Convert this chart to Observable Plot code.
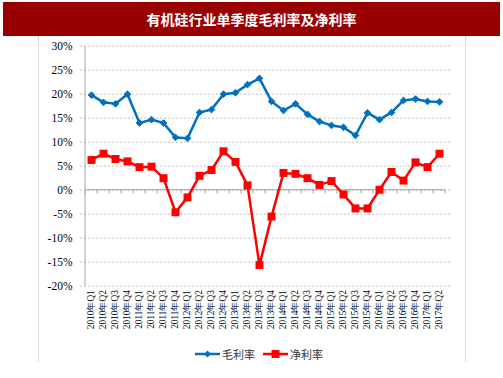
<!DOCTYPE html>
<html><head><meta charset="utf-8">
<script src="https://cdn.jsdelivr.net/npm/d3@7"></script>
<script src="https://cdn.jsdelivr.net/npm/@observablehq/plot@0.6"></script>
<style>
body{margin:0;width:503px;height:378px;background:#fff;position:relative;overflow:hidden;font-family:"Liberation Serif",serif}
#title{position:absolute;left:3px;top:2px;width:497px;height:34px;background:#990000;color:#fff;font:bold 14px "Noto Sans CJK SC",sans-serif;display:flex;align-items:center;justify-content:center;z-index:2}
#frame{position:absolute;left:38px;top:36px;width:426px;height:326px;border-left:1px solid #d9d9d9;border-right:1px solid #d9d9d9}
#chart{position:absolute;left:0;top:0}
#legend{position:absolute;top:346px;left:0;width:503px;height:16px;font:11px "Noto Sans CJK SC",sans-serif;color:#333}
.li{position:absolute;top:0;display:flex;align-items:center;height:16px}
</style></head>
<body>
<div id="frame"></div>
<div id="chart"></div>
<div id="title">有机硅行业单季度毛利率及净利率</div>
<div id="legend">
 <div class="li" style="left:195px"><svg width="25" height="10"><line x1="0" y1="5" x2="25" y2="5" stroke="#0070C0" stroke-width="2.5"/><path d="M12.5,1.5 L16,5 L12.5,8.5 L9,5Z" fill="#0070C0"/></svg><span style="margin-left:2px">毛利率</span></div>
 <div class="li" style="left:263px"><svg width="25" height="10"><line x1="0" y1="5" x2="25" y2="5" stroke="#FF0000" stroke-width="2.5"/><rect x="8.5" y="1" width="8" height="8" fill="#FF0000"/></svg><span style="margin-left:2px">净利率</span></div>
</div>
<script>
const quarters = ["2010年Q1","2010年Q2","2010年Q3","2010年Q4","2011年Q1","2011年Q2","2011年Q3","2011年Q4","2012年Q1","2012年Q2","2012年Q3","2012年Q4","2013年Q1","2013年Q2","2013年Q3","2013年Q4","2014年Q1","2014年Q2","2014年Q3","2014年Q4","2015年Q1","2015年Q2","2015年Q3","2015年Q4","2016年Q1","2016年Q2","2016年Q3","2016年Q4","2017年Q1","2017年Q2"];
const grossMargin = [19.8,18.3,18.0,20.0,14.0,14.7,14.0,11.0,10.8,16.2,16.8,20.0,20.3,22.0,23.3,18.5,16.6,18.0,15.8,14.3,13.5,13.1,11.4,16.1,14.7,16.2,18.7,19.0,18.5,18.4];
const netMargin = [6.3,7.6,6.5,6.0,4.8,4.9,2.5,-4.6,-1.5,3.0,4.2,8.1,5.9,1.0,-15.6,-5.5,3.6,3.4,2.5,1.1,1.9,-0.9,-3.8,-3.8,0.1,3.8,2.0,5.8,4.8,7.6];
const yTicks = [-20,-15,-10,-5,0,5,10,15,20,25,30];

const gross = quarters.map((q,i)=>({q, v: grossMargin[i]}));
const net = quarters.map((q,i)=>({q, v: netMargin[i]}));

// category-boundary tick marks on the zero line and left axis line, drawn from the scales
const zeroTicks = (index, scales) => {
  const g = d3.create("svg:g").attr("stroke", "#a6a6a6");
  const y0 = scales.y(0);
  const bw = scales.x.bandwidth();
  quarters.forEach(q => {
    const x = scales.x(q);
    g.append("line").attr("x1", x).attr("x2", x).attr("y1", y0).attr("y2", y0 + 4);
  });
  const xe = scales.x(quarters[quarters.length-1]) + bw;
  g.append("line").attr("x1", xe).attr("x2", xe).attr("y1", y0).attr("y2", y0 + 4);
  const xl = scales.x(quarters[0]);
  g.append("line").attr("x1", xl).attr("x2", xl).attr("y1", scales.y(30)).attr("y2", scales.y(-20));
  g.append("line").attr("x1", xl).attr("x2", xe).attr("y1", y0).attr("y2", y0);
  return g.node();
};

const chart = Plot.plot({
  width: 503, height: 378,
  marginTop: 45.7, marginBottom: 92.3, marginLeft: 80, marginRight: 53,
  style: {background: "transparent", fontFamily: "Liberation Serif, serif", color: "#000"},
  x: {type: "band", domain: quarters, padding: 0},
  y: {domain: [-20, 30]},
  marks: [
    Plot.gridY(yTicks, {stroke: "#bfbfbf", strokeOpacity: 1, strokeDasharray: "2,2"}),
    Plot.ruleY([0], {stroke: "#a6a6a6", render: zeroTicks}),
    Plot.axisY(yTicks, {tickSize: 0, tickPadding: 8, tickFormat: d => d + "%", fontSize: 11.5, fontFamily: "Liberation Serif, serif", fill: "#000"}),
    Plot.axisX({tickSize: 0, tickPadding: 4, tickRotate: -90, fontSize: 9.3, fontFamily: "Liberation Serif, serif", fill: "#000", label: null}),
    Plot.line(gross, {x: "q", y: "v", stroke: "#0070C0", strokeWidth: 2.5}),
    Plot.dot(gross, {x: "q", y: "v", symbol: "diamond2", r: 3, fill: "#0070C0", stroke: "#0070C0", strokeWidth: 1}),
    Plot.line(net, {x: "q", y: "v", stroke: "#FF0000", strokeWidth: 2.5}),
    Plot.dot(net, {x: "q", y: "v", symbol: "square", r: 4.5, fill: "#FF0000", stroke: "none"})
  ]
});
document.getElementById("chart").appendChild(chart);
</script>
</body></html>
